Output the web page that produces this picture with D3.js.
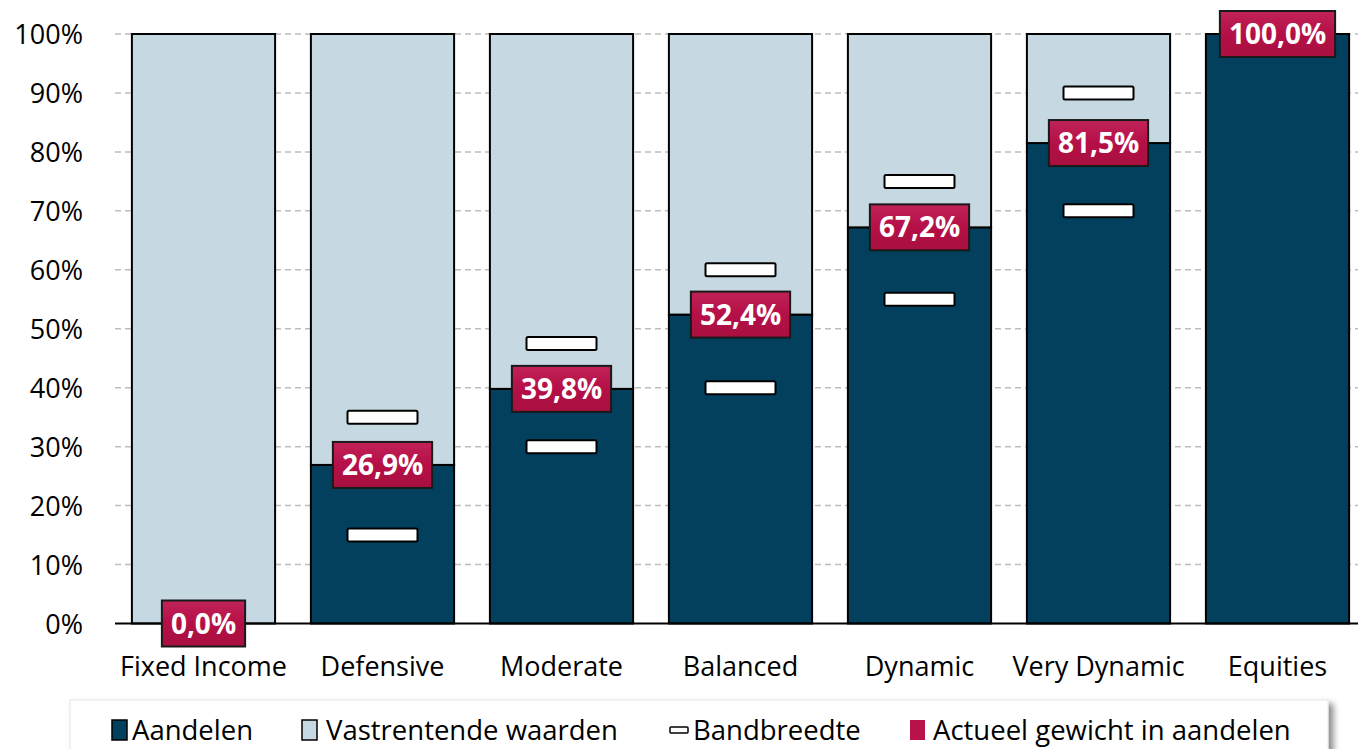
<!DOCTYPE html>
<html>
<head>
<meta charset="utf-8">
<script src="https://cdn.jsdelivr.net/npm/d3@7"></script>
<style>
  html, body { margin: 0; padding: 0; background: #fff; }
  svg { display: block; font-family: "Open Sans", "DejaVu Sans", sans-serif; }
</style>
</head>
<body>
<svg id="chart" width="1358" height="749"></svg>
<script>
const categories = ["Fixed Income", "Defensive", "Moderate", "Balanced", "Dynamic", "Very Dynamic", "Equities"];
const aandelen = [0, 26.9, 39.8, 52.4, 67.2, 81.5, 100];
const vastrentend = [100, 73.1, 60.2, 47.6, 32.8, 18.5, 0];
const bandLow = [null, 15, 30, 40, 55, 70, null];
const bandHigh = [null, 35, 47.5, 60, 75, 90, null];
const actueel = [0.0, 26.9, 39.8, 52.4, 67.2, 81.5, 100.0];
const yTicks = [0, 10, 20, 30, 40, 50, 60, 70, 80, 90, 100];
const legendLabels = ["Aandelen", "Vastrentende waarden", "Bandbreedte", "Actueel gewicht in aandelen"];

const colDark = "#02405E", colLight = "#C6D8E1", colRed = "#B8134A";

const svg = d3.select("#chart");
const defs = svg.append("defs");
const sh = defs.append("filter").attr("id", "shadow").attr("x", "-5%").attr("y", "-50%").attr("width", "110%").attr("height", "200%");
sh.append("feDropShadow").attr("dx", 5).attr("dy", 4).attr("stdDeviation", 3).attr("flood-color", "#000").attr("flood-opacity", 0.45);
const lg = defs.append("linearGradient").attr("id", "lbl").attr("x1", 0).attr("y1", 0).attr("x2", 0).attr("y2", 1);
lg.append("stop").attr("offset", "0%").attr("stop-color", "#C02358");
lg.append("stop").attr("offset", "50%").attr("stop-color", "#B50F47");
lg.append("stop").attr("offset", "100%").attr("stop-color", "#A8103F");

const x = d3.scaleBand().domain(categories).range([114, 1367]).paddingInner(0.2).paddingOuter(0.1);
const y = d3.scaleLinear().domain([0, 100]).range([623.5, 34]);

// gridlines
svg.append("g").selectAll("line").data(yTicks.filter(d => d > 0)).join("line")
  .attr("x1", 115).attr("x2", 1358)
  .attr("y1", d => y(d)).attr("y2", d => y(d))
  .attr("stroke", "#BDBDBD").attr("stroke-width", 1.5).attr("stroke-dasharray", "6,4");

// y axis labels
const yAxis = d3.axisLeft(y).tickValues(yTicks).tickFormat(d => d + "%").tickSize(0).tickPadding(0);
const ya = svg.append("g").attr("transform", "translate(83,0)").call(yAxis);
ya.select(".domain").remove();
ya.selectAll("text").attr("font-size", 27).attr("fill", "#000").attr("font-family", "Open Sans").attr("dy", "0.36em");

// bars
const bw = x.bandwidth();
const gBars = svg.append("g");
categories.forEach((c, i) => {
  if (aandelen[i] > 0) {
    gBars.append("rect").attr("x", x(c)).attr("width", bw)
      .attr("y", y(aandelen[i])).attr("height", y(0) - y(aandelen[i]))
      .attr("fill", colDark).attr("stroke", "#000").attr("stroke-width", 2);
  }
  if (vastrentend[i] > 0) {
    gBars.append("rect").attr("x", x(c)).attr("width", bw)
      .attr("y", y(aandelen[i] + vastrentend[i])).attr("height", y(aandelen[i]) - y(aandelen[i] + vastrentend[i]))
      .attr("fill", colLight).attr("stroke", "#000").attr("stroke-width", 2);
  }
});

// x axis
const xAxis = d3.axisBottom(x).tickSize(0).tickPadding(0);
const xa = svg.append("g").attr("transform", `translate(0,${y(0)})`).call(xAxis);
xa.select(".domain").remove();
svg.append("line").attr("x1", 115).attr("x2", 1358).attr("y1", y(0)).attr("y2", y(0)).attr("stroke", "#000").attr("stroke-width", 2);
xa.selectAll("text").attr("font-size", 27).attr("fill", "#000").attr("font-family", "Open Sans").attr("y", 52).attr("dy", 0);

// band markers
const bandData = [];
categories.forEach((c, i) => {
  if (bandLow[i] != null) bandData.push({ c, v: bandLow[i] });
  if (bandHigh[i] != null) bandData.push({ c, v: bandHigh[i] });
});
svg.append("g").selectAll("rect").data(bandData).join("rect")
  .attr("x", d => x(d.c) + bw / 2 - 35).attr("width", 70)
  .attr("y", d => y(d.v) - 6.5).attr("height", 13)
  .attr("rx", 1.5)
  .attr("fill", "#fff").attr("stroke", "#000").attr("stroke-width", 2);

// actual labels
const gL = svg.append("g");
categories.forEach((c, i) => {
  const g = gL.append("g");
  const t = g.append("text").attr("x", x(c) + bw / 2).attr("y", y(actueel[i]))
    .attr("text-anchor", "middle").attr("dy", "0.36em")
    .attr("font-size", 28).attr("font-weight", "bold").attr("fill", "#fff")
    .text(actueel[i].toFixed(1).replace(".", ",") + "%");
  const bb = t.node().getBBox();
  g.insert("rect", "text").attr("x", x(c) + bw / 2 - bb.width / 2 - 9).attr("width", bb.width + 18)
    .attr("y", y(actueel[i]) - 23).attr("height", 46)
    .attr("fill", "url(#lbl)").attr("stroke", "#1a1a1a").attr("stroke-width", 2);
});

// legend
const lgG = svg.append("g");
lgG.append("rect").attr("x", 70).attr("y", 700).attr("width", 1258).attr("height", 70)
  .attr("fill", "#fff").attr("stroke", "#e6e6e6").attr("stroke-width", 1).attr("filter", "url(#shadow)");
const legX = [112, 302, 670, 910];
const textX = [132, 326, 693, 933];
const ly = 730;
legendLabels.forEach((l, i) => {
  if (i === 0) lgG.append("rect").attr("x", legX[i]).attr("y", ly - 10).attr("width", 15).attr("height", 20).attr("fill", colDark).attr("stroke", "#000").attr("stroke-width", 1.5);
  if (i === 1) lgG.append("rect").attr("x", legX[i]).attr("y", ly - 10).attr("width", 15).attr("height", 20).attr("fill", colLight).attr("stroke", "#000").attr("stroke-width", 1.5);
  if (i === 2) lgG.append("rect").attr("x", legX[i]).attr("y", ly - 3).attr("width", 18).attr("height", 6).attr("rx", 1).attr("fill", "#fff").attr("stroke", "#000").attr("stroke-width", 1.5);
  if (i === 3) lgG.append("rect").attr("x", legX[i]).attr("y", ly - 10).attr("width", 15).attr("height", 20).attr("fill", colRed);
  lgG.append("text").attr("x", textX[i]).attr("y", ly).attr("dy", "0.36em").attr("font-size", 27.5).attr("fill", "#000").text(l);
});
</script>
</body>
</html>
